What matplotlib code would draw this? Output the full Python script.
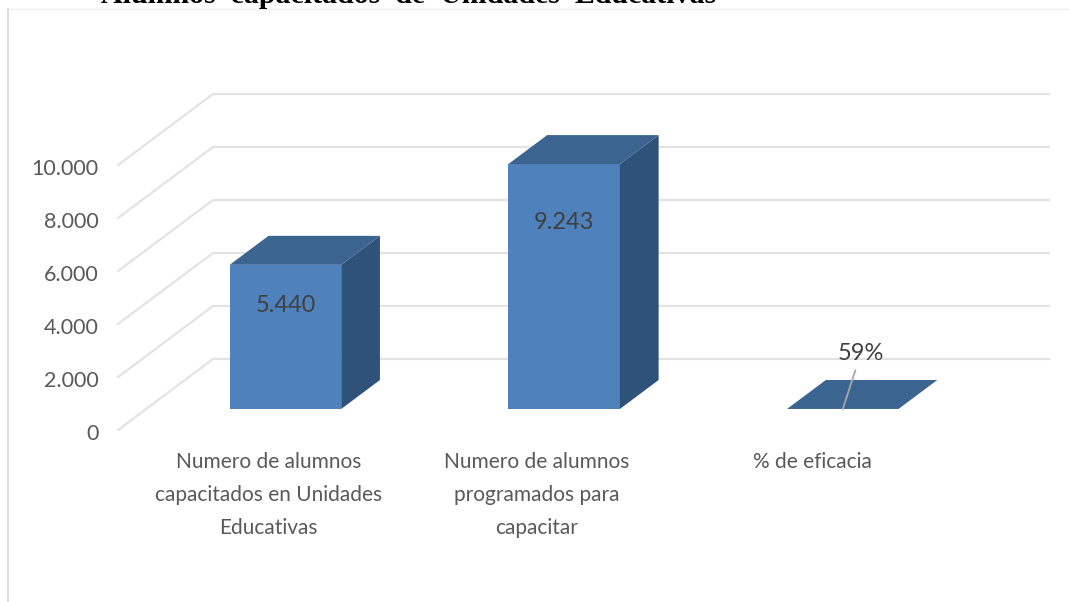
import matplotlib
matplotlib.use("Agg")
import matplotlib.pyplot as plt
from matplotlib.patches import Polygon
from matplotlib.lines import Line2D
from matplotlib.transforms import ScaledTranslation

plt.rcParams['font.family'] = ['Lato', 'DejaVu Sans']

categories = ["Numero de alumnos\ncapacitados en Unidades\nEducativas",
              "Numero de alumnos\nprogramados para\ncapacitar",
              "% de eficacia"]
values = [5440, 9243, 0.59]
value_labels = ["5.440", "9.243", "59%"]
y_ticks = [0, 2000, 4000, 6000, 8000, 10000]
y_ticklabels = ["0", "2.000", "4.000", "6.000", "8.000", "10.000"]
title = "Alumnos  capacitados  de  Unidades  Educativas"

W, H = 1069, 602
fig = plt.figure(figsize=(W / 100, H / 100), dpi=100, facecolor="white")

# front plane of the fake 3d box, in pixels
left, right, y0, y10k = 118, 954, 430, 165
ax = fig.add_axes([left / W, 1 - y0 / H, (right - left) / W, (y0 - y10k) / H])
ax.set_xlim(0, 3)
ax.set_ylim(0, 10000)
ax.patch.set_visible(False)
for s in ax.spines.values():
    s.set_visible(False)

# one unit of depth in data units
DX = 95 / (right - left) * 3
DY = 71 / (y0 - y10k) * 10000
d_front, d_back = 0.296, 0.704
bar_w = 0.4
grid_c = "#e3e3e3"

def pt(x, y, d):
    return (x + DX * d, y + DY * d)

# gridlines, side wall + back wall
for t in y_ticks:
    ax.plot(*zip(pt(0, t, 0), pt(0, t, 1), pt(3, t, 1)), color=grid_c, lw=1.6,
            clip_on=False, solid_joinstyle="miter", zorder=1)

for i, v in enumerate(values):
    x0 = i + 0.5 - bar_w / 2
    x1 = i + 0.5 + bar_w / 2
    # front, side, top
    ax.add_patch(Polygon([pt(x0, 0, d_front), pt(x1, 0, d_front), pt(x1, v, d_front), pt(x0, v, d_front)],
                         closed=True, fc="#4f81bd", ec="none", clip_on=False, zorder=3))
    ax.add_patch(Polygon([pt(x1, 0, d_front), pt(x1, 0, d_back), pt(x1, v, d_back), pt(x1, v, d_front)],
                         closed=True, fc="#2f5278", ec="none", clip_on=False, zorder=3))
    ax.add_patch(Polygon([pt(x0, v, d_front), pt(x1, v, d_front), pt(x1, v, d_back), pt(x0, v, d_back)],
                         closed=True, fc="#3c6491", ec="none", clip_on=False, zorder=3))

# value labels, a bit under the top of the bar
for i, frac in enumerate([0.72, 0.763]):
    lx, ly = pt(i + 0.5, values[i] * frac, d_front)
    ax.text(lx, ly, value_labels[i], ha="center", va="center",
            fontsize=17, color="#404040", zorder=5)

# leader line and label of the flat bar
ax.annotate(value_labels[2], xy=pt(2.5, values[2], d_front), xytext=(861, H - 353), textcoords="figure pixels",
            ha="center", va="center", fontsize=17, color="#404040", zorder=5,
            arrowprops=dict(arrowstyle="-", color="#a6a6a6", lw=1.3, shrinkA=3, shrinkB=0))

ax.set_yticks(y_ticks)
ax.set_yticklabels(y_ticklabels, fontsize=15.5, color="#595959")
ax.tick_params(axis="y", length=0, pad=14)
for lbl in ax.get_yticklabels():
    lbl.set_transform(lbl.get_transform() + ScaledTranslation(0, -2 / 100, fig.dpi_scale_trans))

ax.set_xticks([0.5, 1.5, 2.5])
ax.set_xticklabels([])
ax.tick_params(axis="x", length=0)
for i, c in enumerate(categories):
    ax.annotate(c, xy=(i + 0.5, 0), xytext=([11, 1, -2][i], -22), textcoords="offset pixels",
                ha="center", va="top", fontsize=15, color="#595959", linespacing=1.8,
                annotation_clip=False)

# frame of the pasted chart
fig.add_artist(Line2D([8 / W, 8 / W], [0, 1 - 9 / H], color="#d9d9d9", lw=1.3))
fig.add_artist(Line2D([8 / W, 1], [1 - 9 / H, 1 - 9 / H], color="#eeeeee", lw=1))

# title is cut off at the top in the original
fig.text(409 / W, 1 - 3 / H, title, ha="center", va="baseline", family="Liberation Serif",
         fontweight="bold", fontsize=21.5, color="black")

fig.savefig("out.png", dpi=100)
